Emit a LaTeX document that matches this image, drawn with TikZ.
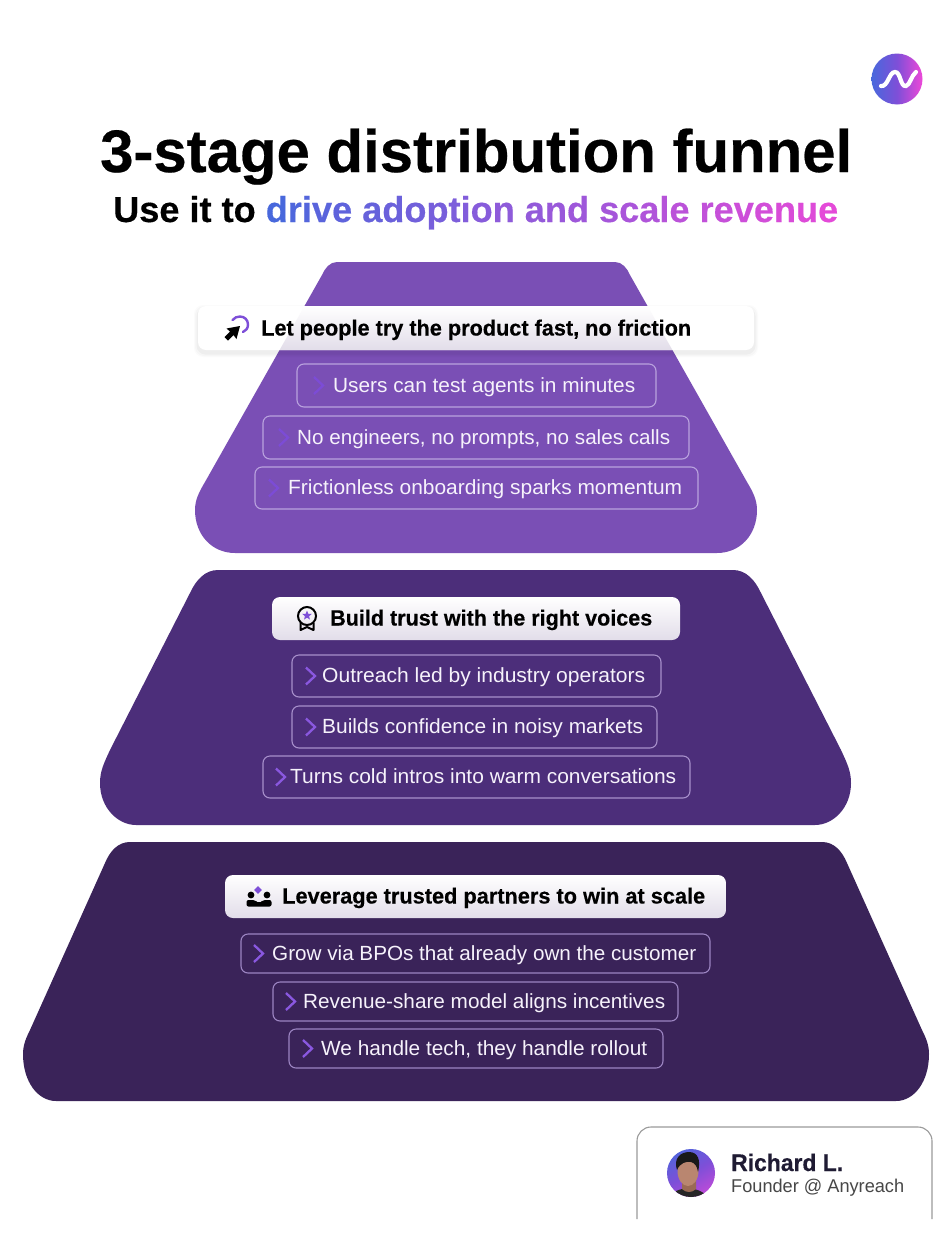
\documentclass[tikz,border=0pt]{standalone}
\usepackage{graphicx}
\usepackage{fontspec}
\setmainfont[BoldFeatures={FakeBold=0.4}]{Liberation Sans}
\usetikzlibrary{shapes.geometric}
\definecolor{gblue}{HTML}{4868DC}
\definecolor{gmag}{HTML}{EE48D8}
\definecolor{cone}{HTML}{7A4FB5}
\definecolor{ctwo}{HTML}{4C2E7A}
\definecolor{cthree}{HTML}{3A2359}
\definecolor{lineone}{HTML}{B9A2DE}
\definecolor{linetwo}{HTML}{A78FCB}
\definecolor{linethree}{HTML}{9C85C2}
\definecolor{chevone}{HTML}{7C4CD6}
\definecolor{chevtwo}{HTML}{8A58E0}
\definecolor{inktext}{HTML}{F6F2FB}
\definecolor{accent}{HTML}{7E4FD8}
\definecolor{cardline}{HTML}{9A9A9A}
\definecolor{headlow}{HTML}{E2DDE9}
\definecolor{nameink}{HTML}{1F1B33}
\definecolor{skin}{HTML}{B98670}
\definecolor{skindark}{HTML}{9A6A55}
\newcommand{\fitw}[2]{\resizebox{#1pt}{\height}{#2}}
\newcount\gradcnt
\makeatletter
\newcommand{\gradword}[1]{\@tfor\gradch:=#1\do{%
  \pgfmathtruncatemacro\gradp{100-\the\gradcnt*100/29}%
  {\color{gblue!\gradp!gmag}\gradch}\global\advance\gradcnt by 1\relax}}
\makeatother
\tikzset{
  titletext/.style={anchor=base west,inner sep=0pt,font=\fontsize{60}{60}\selectfont\bfseries,text=black},
  subtext/.style={anchor=base west,inner sep=0pt,font=\fontsize{36}{36}\selectfont\bfseries,text=black},
  headtext/.style={anchor=base west,inner sep=0pt,font=\fontsize{22}{22}\selectfont\bfseries,text=black},
  pilltext/.style={anchor=base west,inner sep=0pt,font=\fontsize{20.5}{20.5}\selectfont,text=inktext},
  pillbox/.style={rounded corners=7pt,line width=1.1pt,draw=pillcol},
  chev/.style={line width=2.3pt,line join=miter,draw=chevcol},
  headfill/.style={rounded corners=8pt,top color=white,bottom color=#1},
  iconink/.style={fill=black,draw=none},
}
\newcommand{\pill}[9]{%
  \draw[pillbox] (#2,#4) rectangle (#3,#5);
  \draw[chev] (#6-9,#4/2+#5/2-8.5) -- (#6,#4/2+#5/2) -- (#6-9,#4/2+#5/2+8.5);
  \node[pilltext] (#1) at (#7,#4/2+#5/2+6.7) {\fitw{#8}{#9}};
}
\newcommand{\hshadow}[4]{%
  \foreach \s/\o in {4/0.015,3/0.02,1.5/0.03}{
    \fill[black,opacity=\o,rounded corners=9pt] (#1-\s,#3-\s+3) rectangle (#2+\s,#4+\s+3);}
}
\def\bandone{(337,262) -- (615,262) .. controls (622,262) and (627,268) .. (630,275) -- (747,482) .. controls (753,492) and (757,500) .. (757,510) .. controls (757,535) and (740,553) .. (717,553) -- (235,553) .. controls (212,553) and (195,535) .. (195,510) .. controls (195,500) and (199,492) .. (205,482) -- (322,275) .. controls (325,268) and (330,262) .. (337,262) -- cycle}
\begin{document}
\begin{tikzpicture}[x=1pt,y=-1pt]
\useasboundingbox (0,0) rectangle (952,1250);
\fill[white] (0,0) rectangle (952,1250);

% logo
\shade[left color=gblue,right color=gmag,middle color=accent] (897,79) circle (25.5);
\draw[white,line width=4.2pt,line cap=round] (881,86) .. controls (888,87) and (889,72) .. (895,72) .. controls (901,72) and (900,87) .. (906,86) .. controls (910,85) and (911,76) .. (916,72);

% titles
\node[titletext] (title) at (100,172) {\fitw{752}{3-stage distribution funnel}};
\node[subtext] (subtitle) at (113,222) {\fitw{725}{Use it to \gradword{drive} \gradword{adoption} \gradword{and} \gradword{scale} \gradword{revenue}}};

% funnel bands
\fill[cone] \bandone;
\fill[ctwo] (218,570) -- (733,570) .. controls (746,570) and (755,580) .. (761,593) -- (841,750) .. controls (847,763) and (851,771) .. (851,783) .. controls (851,808) and (833,825) .. (815,825) -- (136,825) .. controls (118,825) and (100,808) .. (100,783) .. controls (100,771) and (104,763) .. (110,750) -- (190,593) .. controls (196,580) and (205,570) .. (218,570) -- cycle;
\fill[cthree] (130,842) -- (822,842) .. controls (834,842) and (842,851) .. (847,863) -- (922,1030) .. controls (926,1038) and (929,1045) .. (929,1054) .. controls (929,1082) and (914,1101) .. (896,1101) -- (56,1101) .. controls (38,1101) and (23,1082) .. (23,1054) .. controls (23,1045) and (26,1038) .. (30,1030) -- (105,863) .. controls (110,851) and (118,842) .. (130,842) -- cycle;

% header bars
\hshadow{198}{754}{306}{350}
\fill[white,rounded corners=8pt] (198,306) rectangle (754,350);
\begin{scope}
  \clip[rounded corners=8pt] (198,306) rectangle (754,350);
  \clip \bandone;
  \shade[top color=white,bottom color=headlow] (198,306) rectangle (754,350);
\end{scope}
\shade[headfill=headlow] (272,597) rectangle (680,640);
\shade[headfill=headlow] (225,875) rectangle (726,918);
\node[headtext] (headone) at (261,335.5) {\fitw{430}{Let people try the product fast, no friction}};
\node[headtext] (headtwo) at (330,625.5) {\fitw{322}{Build trust with the right voices}};
\node[headtext] (headthree) at (282,903.5) {\fitw{423}{Leverage trusted partners to win at scale}};

% icon 1
\draw[accent,line width=2.4pt,line cap=round] (232.5,320) .. controls (234.5,317.5) and (237.5,316.5) .. (240,316.5) .. controls (244.5,316.5) and (248,320) .. (248,324.5) .. controls (248,328) and (246,331) .. (243,332);
\fill[iconink] (240,326) -- (236.5,339) -- (233.5,335) -- (228,340.5) -- (224.5,337) -- (230,331.5) -- (226.5,328.5) -- cycle;

% icon 2
\draw[black,line width=2pt] (307,616) circle (9);
\draw[black,line width=2pt,line join=round] (300.5,623) -- (300.5,630) -- (307,627) -- (313.5,630) -- (313.5,623);
\node[star,star points=5,star point ratio=2.3,fill=accent,inner sep=0pt,minimum size=10pt] (badgestar) at (307,615.5) {};

% icon 3
\node[diamond,fill=accent,inner sep=0pt,minimum size=8pt] (peoplemark) at (258,890) {};
\fill[black] (251,895) circle (3.4) (267,895) circle (3.4);
\fill[iconink,rounded corners=2pt] (246.5,900) -- (255,900) -- (259,903.5) -- (263,900) -- (271.5,900) -- (271.5,906.5) -- (246.5,906.5) -- cycle;

% pills: band one
\colorlet{pillcol}{lineone}\colorlet{chevcol}{chevone}
\pill{p1a}{297}{656}{364}{407}{323}{333}{302}{Users can test agents in minutes}
\pill{p1b}{263}{689}{416}{459}{288}{297}{373}{No engineers, no prompts, no sales calls}
\pill{p1c}{255}{698}{467}{509}{278}{288}{394}{Frictionless onboarding sparks momentum}

% pills: band two
\colorlet{pillcol}{linetwo}\colorlet{chevcol}{chevtwo}
\pill{p2a}{292}{661}{655}{697}{315}{322}{323}{Outreach led by industry operators}
\pill{p2b}{292}{657}{706}{748}{315}{322}{321}{Builds confidence in noisy markets}
\pill{p2c}{263}{690}{756}{798}{285}{290}{386}{Turns cold intros into warm conversations}

% pills: band three
\colorlet{pillcol}{linethree}
\pill{p3a}{241}{710}{934}{973}{263}{272}{424}{Grow via BPOs that already own the customer}
\pill{p3b}{273}{678}{982}{1021}{295}{303}{362}{Revenue-share model aligns incentives}
\pill{p3c}{289}{663}{1029}{1068}{312}{321}{326}{We handle tech, they handle rollout}

% author card
\draw[cardline,line width=1.1pt,rounded corners=14pt] (637,1219) -- (637,1127) -- (932,1127) -- (932,1219);
\begin{scope}
  \clip (691,1173) circle (24);
  \shade[left color=gblue,right color=gmag!70!accent,middle color=accent,shading angle=30] (660,1142) rectangle (722,1204);
  \fill[black!85] (670,1198) .. controls (672,1191) and (680,1189) .. (688,1188) .. controls (696,1189) and (704,1191) .. (708,1198) -- cycle;
  \fill[skindark] (682,1178) -- (696,1178) -- (696,1189) .. controls (692,1193) and (686,1193) .. (682,1189) -- cycle;
  \fill[skin] (688,1171) ellipse (10.5 and 15);
  \fill[black!90] (677,1170) .. controls (673,1158) and (681,1152) .. (689,1152) .. controls (698,1152) and (701,1160) .. (698,1172) .. controls (697,1166) and (695,1163) .. (691,1162) .. controls (686,1161) and (680,1163) .. (677,1170) -- cycle;
\end{scope}
\node[anchor=base west,inner sep=0pt,font=\fontsize{24}{24}\selectfont\bfseries,text=nameink] (authorname) at (731,1171) {\fitw{112}{Richard L.}};
\node[anchor=base west,inner sep=0pt,font=\fontsize{18.5}{18.5}\selectfont,text=black!72] (authorrole) at (731,1192) {\fitw{173}{Founder @ Anyreach}};
\end{tikzpicture}
\end{document}
